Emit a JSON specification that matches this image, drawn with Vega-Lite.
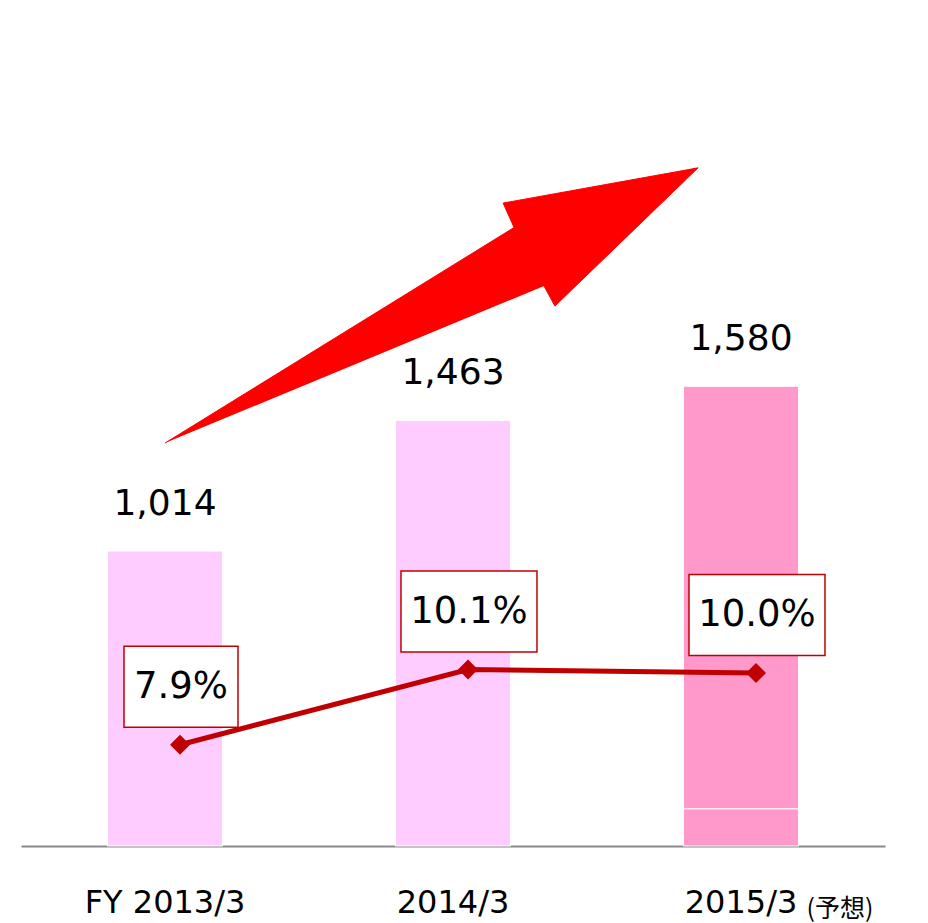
{
  "$schema": "https://vega.github.io/schema/vega-lite/v6.json",
  "width": 864,
  "height": 846,
  "autosize": {"type": "none"},
  "padding": {"left": 21, "top": 0, "right": 43, "bottom": 77},
  "background": "white",
  "config": {"view": {"stroke": null}, "font": "DejaVu Sans"},
  "datasets": {
    "main": [
      {"year": "FY 2013/3", "sales": 1014, "pct": 7.9, "pctLabel": "7.9%"},
      {"year": "2014/3", "sales": 1463, "pct": 10.1, "pctLabel": "10.1%"},
      {"year": "2015/3", "sales": 1580, "pct": 10.0, "pctLabel": "10.0%"}
    ],
    "segs": [
      {"year": "FY 2013/3", "part": "a", "v": 1014},
      {"year": "2014/3", "part": "a", "v": 1463},
      {"year": "2015/3", "part": "b", "v": 128},
      {"year": "2015/3", "part": "c", "v": 1452}
    ],
    "arrow": [
      {"i": 0, "ax": 0.5, "ay": 1385},
      {"i": 1, "ax": 1.712, "ay": 2126},
      {"i": 2, "ax": 1.674, "ay": 2210},
      {"i": 3, "ax": 2.351, "ay": 2331},
      {"i": 4, "ax": 1.854, "ay": 1856},
      {"i": 5, "ax": 1.816, "ay": 1925}
    ],
    "note": [{"year": "2015/3", "note": "(予想)"}]
  },
  "resolve": {"scale": {"x": "independent", "y": "independent"}},
  "layer": [
    {
      "data": {"name": "segs"},
      "mark": {"type": "bar", "stroke": "white", "strokeWidth": 1},
      "encoding": {
        "x": {
          "field": "year", "type": "nominal", "sort": null,
          "scale": {"domain": ["FY 2013/3", "2014/3", "2015/3"], "paddingInner": 0.6, "paddingOuter": 0.3},
          "axis": {
            "title": null, "ticks": false, "labelAngle": 0, "labelPadding": 66,
            "labelBaseline": "alphabetic", "labelFontSize": 32, "labelColor": "#000000",
            "labelFont": "DejaVu Sans", "domainColor": "#898989", "domainWidth": 2, "grid": false
          }
        },
        "y": {
          "field": "v", "type": "quantitative", "stack": "zero",
          "scale": {"domain": [0, 2908], "nice": false}, "axis": null
        },
        "color": {
          "field": "part", "type": "nominal",
          "scale": {"domain": ["a", "b", "c"], "range": ["#FFCCFF", "#FF99CC", "#FF99CC"]},
          "legend": null
        },
        "order": {"field": "part"}
      }
    },
    {
      "data": {"name": "arrow"},
      "mark": {"type": "line", "fill": "#FF0000", "stroke": "#FF0000", "strokeWidth": 1},
      "encoding": {
        "x": {"field": "ax", "type": "quantitative", "scale": {"domain": [0, 3], "nice": false, "zero": false}, "axis": null},
        "y": {"field": "ay", "type": "quantitative", "scale": {"domain": [0, 2908], "nice": false}, "axis": null},
        "order": {"field": "i"}
      }
    },
    {
      "data": {"name": "main"},
      "mark": {"type": "text", "fontSize": 36, "baseline": "alphabetic", "align": "center", "dy": -36, "color": "#000000", "font": "DejaVu Sans"},
      "encoding": {
        "x": {"field": "year", "type": "nominal", "sort": null, "scale": {"domain": ["FY 2013/3", "2014/3", "2015/3"], "paddingInner": 0.6, "paddingOuter": 0.3}, "axis": null},
        "y": {"field": "sales", "type": "quantitative", "scale": {"domain": [0, 2908], "nice": false}, "axis": null},
        "text": {"field": "sales", "type": "quantitative", "format": ","}
      }
    },
    {
      "data": {"name": "main"},
      "mark": {"type": "line", "color": "#C00000", "strokeWidth": 5, "xOffset": 15},
      "encoding": {
        "x": {"field": "year", "type": "nominal", "sort": null, "scale": {"domain": ["FY 2013/3", "2014/3", "2015/3"], "paddingInner": 0.6, "paddingOuter": 0.3}, "axis": null},
        "y": {"field": "pct", "type": "quantitative", "scale": {"domain": [4.94, 29.68], "nice": false, "zero": false}, "axis": null}
      }
    },
    {
      "data": {"name": "main"},
      "mark": {"type": "point", "shape": "diamond", "filled": true, "color": "#C00000", "size": 400, "opacity": 1, "xOffset": 15},
      "encoding": {
        "x": {"field": "year", "type": "nominal", "sort": null, "scale": {"domain": ["FY 2013/3", "2014/3", "2015/3"], "paddingInner": 0.6, "paddingOuter": 0.3}, "axis": null},
        "y": {"field": "pct", "type": "quantitative", "scale": {"domain": [4.94, 29.68], "nice": false, "zero": false}, "axis": null}
      }
    },
    {
      "data": {"name": "main"},
      "mark": {"type": "point", "filled": false, "fill": "white", "fillOpacity": 1, "stroke": "#C00000", "strokeWidth": 1.5, "opacity": 1, "xOffset": 16, "yOffset": -58},
      "encoding": {
        "x": {"field": "year", "type": "nominal", "sort": null, "scale": {"domain": ["FY 2013/3", "2014/3", "2015/3"], "paddingInner": 0.6, "paddingOuter": 0.3}, "axis": null},
        "y": {"field": "pct", "type": "quantitative", "scale": {"domain": [4.94, 29.68], "nice": false, "zero": false}, "axis": null},
        "shape": {"condition": {"test": "datum.pct < 9", "value": "M-1,-0.711H1V0.711H-1Z"}, "value": "M-1,-0.596H1V0.596H-1Z"},
        "size": {"condition": {"test": "datum.pct < 9", "value": 12996}, "value": 18496}
      }
    },
    {
      "data": {"name": "main"},
      "mark": {"type": "text", "fontSize": 37, "baseline": "alphabetic", "align": "center", "dy": -46.5, "xOffset": 16, "color": "#000000", "font": "DejaVu Sans"},
      "encoding": {
        "x": {"field": "year", "type": "nominal", "sort": null, "scale": {"domain": ["FY 2013/3", "2014/3", "2015/3"], "paddingInner": 0.6, "paddingOuter": 0.3}, "axis": null},
        "y": {"field": "pct", "type": "quantitative", "scale": {"domain": [4.94, 29.68], "nice": false, "zero": false}, "axis": null},
        "text": {"field": "pctLabel", "type": "nominal"}
      }
    },
    {
      "data": {"name": "note"},
      "mark": {"type": "text", "fontSize": 25, "baseline": "alphabetic", "align": "center", "dx": 99, "dy": 71, "color": "#000000", "font": "Noto Sans CJK JP"},
      "encoding": {
        "x": {"field": "year", "type": "nominal", "sort": null, "scale": {"domain": ["FY 2013/3", "2014/3", "2015/3"], "paddingInner": 0.6, "paddingOuter": 0.3}, "axis": null},
        "y": {"datum": 0, "type": "quantitative", "scale": {"domain": [0, 2908], "nice": false}, "axis": null},
        "text": {"field": "note", "type": "nominal"}
      }
    }
  ]
}
